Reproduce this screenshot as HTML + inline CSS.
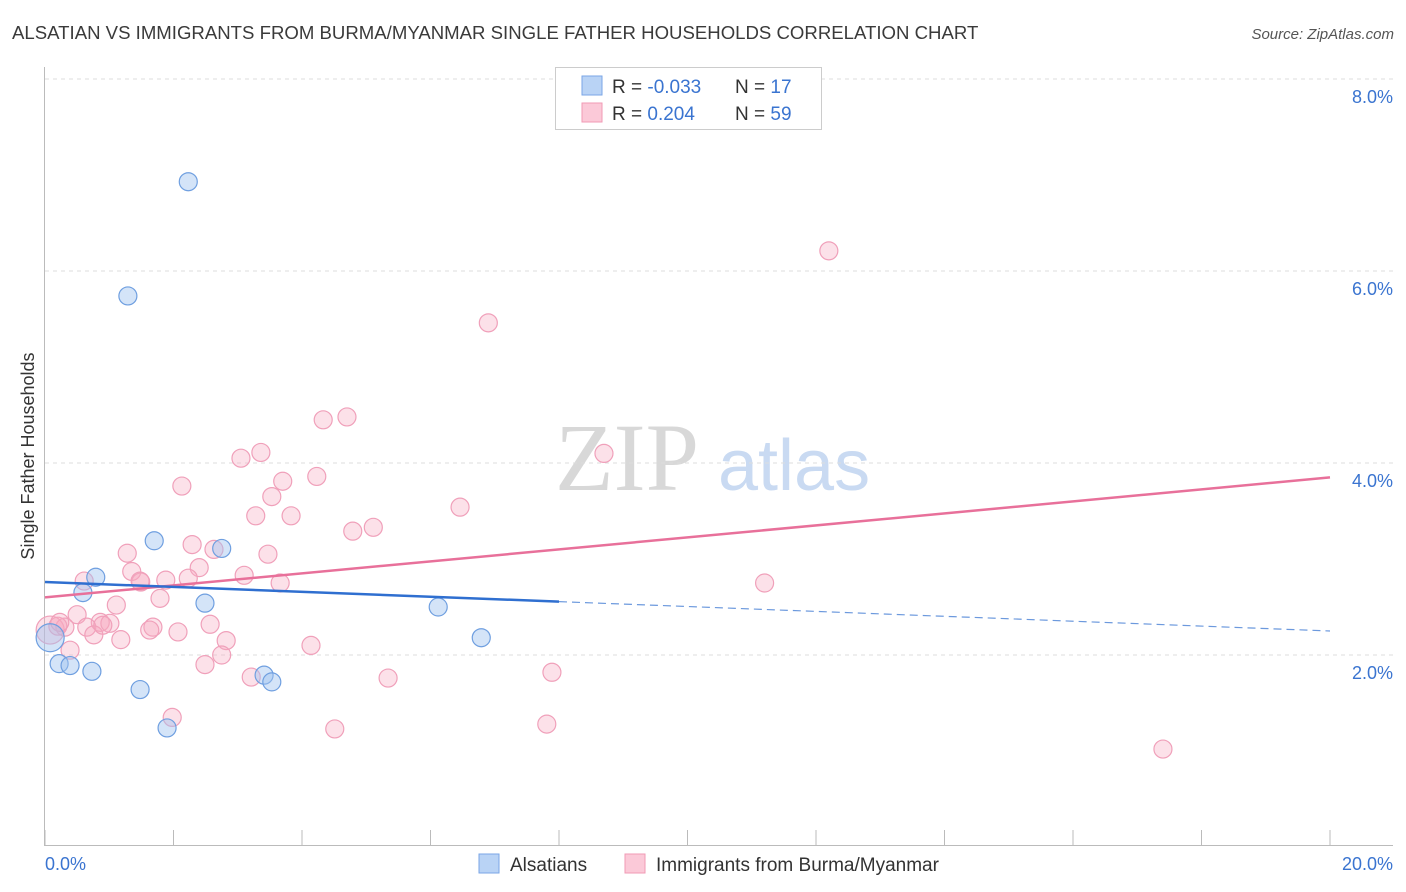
<!DOCTYPE html>
<html><head><meta charset="utf-8">
<style>
body{margin:0;background:#fff;font-family:"Liberation Sans",sans-serif;}
svg{display:block}
</style></head><body>
<svg id="chart" width="1406" height="892" xmlns="http://www.w3.org/2000/svg">
<text x="12" y="39" font-size="18.6" fill="#3a3a3a">ALSATIAN VS IMMIGRANTS FROM BURMA/MYANMAR SINGLE FATHER HOUSEHOLDS CORRELATION CHART</text>
<text x="1394" y="39" font-size="15" fill="#555" font-style="italic" text-anchor="end">Source: ZipAtlas.com</text>
<g>
<text x="555" y="490" font-size="96" fill="#d8d8d8" font-family="Liberation Serif,serif">ZIP</text>
<text x="718" y="490" font-size="72" fill="#c9daf2">atlas</text>
</g>
<g id="grid"></g>
<g id="axes"></g>
<g id="marks"></g>
<g>
<rect x="555.5" y="67.5" width="266" height="62" fill="#fff" stroke="#ccc"/>
<rect x="582" y="76" width="20" height="19" fill="#b9d3f5" stroke="#7aa6e6"/>
<rect x="582" y="103" width="20" height="19" fill="#fbc9d8" stroke="#f09ab5"/>
<text x="612" y="93" font-size="19" fill="#333">R = <tspan fill="#3a74d0">-0.033</tspan></text>
<text x="735" y="93" font-size="19" fill="#333">N = <tspan fill="#3a74d0"> 17</tspan></text>
<text x="612" y="120" font-size="19" fill="#333">R = <tspan fill="#3a74d0"> 0.204</tspan></text>
<text x="735" y="120" font-size="19" fill="#333">N = <tspan fill="#3a74d0">59</tspan></text>
</g>
<g>
<rect x="479" y="854" width="20" height="19" fill="#b9d3f5" stroke="#7aa6e6"/>
<text x="510" y="871" font-size="19" fill="#333">Alsatians</text>
<rect x="625" y="854" width="20" height="19" fill="#fbc9d8" stroke="#f09ab5"/>
<text x="656" y="871" font-size="19" fill="#333">Immigrants from Burma/Myanmar</text>
</g>
<text transform="translate(34,456) rotate(-90)" font-size="18" fill="#333" text-anchor="middle">Single Father Households</text>
</svg>
<script>
const yTicks=[2,4,6,8];
const yTickLabels=["2.0%","4.0%","6.0%","8.0%"];
const xTicks=[0,2,4,6,8,10,12,14,16,18,20];
const alsatianX=[2.23,1.29,1.70,2.75,0.79,0.59,2.49,6.12,6.79,0.08,0.22,0.39,0.73,1.48,3.41,3.53,1.90];
const alsatianY=[6.93,5.74,3.19,3.11,2.81,2.65,2.54,2.50,2.18,2.18,1.91,1.89,1.83,1.64,1.79,1.72,1.24];
const burmaX=[12.2,6.90,4.70,4.33,3.36,3.05,8.70,2.13,3.70,4.23,3.53,6.46,3.28,3.83,5.11,4.79,2.29,2.63,1.28,3.47,2.40,1.35,3.10,2.23,1.88,0.61,1.49,3.66,11.2,1.79,1.11,0.50,0.86,1.01,0.65,1.68,2.57,1.63,2.07,0.08,0.31,0.76,1.18,2.82,4.14,0.39,2.75,2.49,7.89,3.21,5.34,1.98,7.81,4.51,17.4,0.20,0.23,1.48,0.90];
const burmaY=[6.21,5.46,4.48,4.45,4.11,4.05,4.10,3.76,3.81,3.86,3.65,3.54,3.45,3.45,3.33,3.29,3.15,3.10,3.06,3.05,2.91,2.87,2.83,2.80,2.78,2.77,2.76,2.75,2.75,2.59,2.52,2.42,2.34,2.33,2.29,2.29,2.32,2.26,2.24,2.26,2.29,2.21,2.16,2.15,2.10,2.05,2.00,1.90,1.82,1.77,1.76,1.35,1.28,1.23,1.02,2.30,2.34,2.77,2.31];
const blueTrend=[2.76,-0.0255];
const pinkTrend=[2.60,0.0625];
const X0=45,X1=1330,Y0=847,PX=96;
const sx=v=>X0+(X1-X0)*v/20, sy=v=>Y0-v*PX;
const NS="http://www.w3.org/2000/svg";
function mk(t,a,p){const e=document.createElementNS(NS,t);for(const k in a)e.setAttribute(k,a[k]);p.appendChild(e);return e;}
const grid=document.getElementById('grid'),axes=document.getElementById('axes'),marks=document.getElementById('marks');
yTicks.forEach((v,i)=>{
 const l=mk('line',{x1:45,x2:1393,y1:sy(v),y2:sy(v),stroke:'#ddd','stroke-dasharray':'4,4'},grid);
 
 
 const t=mk('text',{x:1393,y:sy(v)+24,'font-size':18,fill:'#3a74d0','text-anchor':'end'},axes);
 t.textContent=yTickLabels[i];
 
 
});
const tg=mk('line',{x1:45,x2:1393,y1:79,y2:79,stroke:'#ddd','stroke-dasharray':'4,4'},grid);


const ya=mk('line',{x1:44.5,x2:44.5,y1:67,y2:846,stroke:'#bbb'},axes);


const xa=mk('line',{x1:45,x2:1393,y1:845.5,y2:845.5,stroke:'#bbb'},axes);


xTicks.forEach(v=>{
 const l=mk('line',{x1:sx(v),x2:sx(v),y1:830,y2:845,stroke:'#bbb'},axes);
 
 
});
const xl0=mk('text',{x:45,y:870,'font-size':18,fill:'#3a74d0'},axes);xl0.textContent='0.0%';


const xl1=mk('text',{x:1393,y:870,'font-size':18,fill:'#3a74d0','text-anchor':'end'},axes);xl1.textContent='20.0%';


burmaX.forEach((x,i)=>{
 const c=mk('circle',{cx:sx(x),cy:sy(burmaY[i]),r:(x<0.15?14:9),fill:'rgba(247,168,193,0.35)',stroke:'#f0a0ba','stroke-width':1.2},marks);
 
 
});
alsatianX.forEach((x,i)=>{
 const c=mk('circle',{cx:sx(x),cy:sy(alsatianY[i]),r:(x<0.15?14:9),fill:'rgba(160,196,240,0.45)',stroke:'#6f9fe0','stroke-width':1.2},marks);
 
 
});
const pt=mk('line',{x1:sx(0),y1:sy(pinkTrend[0]),x2:sx(20),y2:sy(pinkTrend[0]+pinkTrend[1]*20),stroke:'#e8709a','stroke-width':2.5},marks);


const bt=mk('line',{x1:sx(0),y1:sy(blueTrend[0]),x2:sx(8),y2:sy(blueTrend[0]+blueTrend[1]*8),stroke:'#2f6fd0','stroke-width':2.5},marks);


const bd=mk('line',{x1:sx(8),y1:sy(blueTrend[0]+blueTrend[1]*8),x2:sx(20),y2:sy(blueTrend[0]+blueTrend[1]*20),stroke:'#2f6fd0','stroke-width':1.2,'stroke-dasharray':'8,5',opacity:0.7},marks);


</script>
</body></html>
